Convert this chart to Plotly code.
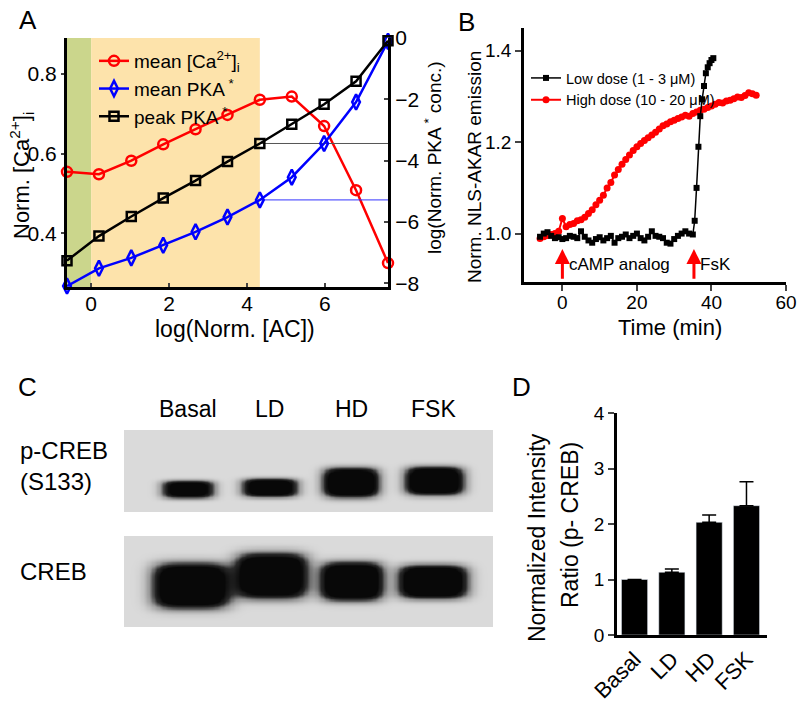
import numpy as np
import plotly.graph_objects as go

# ---- Panel A: model output vs log AC ----
ac_log = [-0.62, 0.2, 1.03, 1.85, 2.68, 3.5, 4.33, 5.15, 5.98, 6.8, 7.62]
ca_mean = [0.554, 0.548, 0.582, 0.623, 0.661, 0.697, 0.735, 0.743, 0.669, 0.508, 0.325]
pka_mean = [-8.09, -7.51, -7.17, -6.76, -6.32, -5.84, -5.28, -4.54, -3.44, -2.09, -0.11]
pka_peak = [-7.26, -6.46, -5.82, -5.22, -4.65, -4.03, -3.44, -2.81, -2.16, -1.41, -0.09]
ref_idx = 6  # edge of the shaded physiological range

# ---- Panel B: NLS-AKAR time course ----
low_time = list(range(-6, 36)) + [35.5, 36, 36.5, 37, 37.5, 38, 38.5, 39, 39.5, 40, 40.5]
low_resp = [0.993, 1.000, 1.003, 0.995, 0.990, 0.992, 0.988, 0.990, 0.995, 0.993,
            0.990, 1.005, 0.993, 0.985, 0.980, 0.988, 0.992, 0.985, 0.990, 0.995,
            0.980, 0.990, 0.993, 0.998, 0.990, 0.995, 1.000, 0.990, 0.985, 0.993,
            1.005, 0.995, 0.993, 0.990, 0.980, 0.978, 0.988, 0.995, 1.000, 1.005,
            1.000, 0.998,
            1.028, 1.100, 1.190, 1.257, 1.294, 1.323, 1.351, 1.364, 1.373, 1.380, 1.384]
high_time = list(range(-6, 53))
high_resp = [0.989, 0.993, 0.996, 0.998, 1.000, 1.005, 1.033,
             1.015, 1.020, 1.022, 1.028, 1.030, 1.036, 1.044, 1.052, 1.063, 1.073,
             1.084, 1.100, 1.112, 1.128, 1.140, 1.152, 1.162, 1.172, 1.182, 1.190,
             1.197, 1.204, 1.210, 1.216, 1.222, 1.229, 1.236, 1.240, 1.245, 1.248,
             1.252, 1.255, 1.259, 1.257, 1.263, 1.266, 1.270, 1.272, 1.276, 1.279,
             1.283, 1.287, 1.286, 1.290, 1.292, 1.295, 1.299, 1.298, 1.302, 1.308,
             1.306, 1.303]
event_time = [0, 35.3]
event_label = ["cAMP analog", "FsK"]

# ---- Panel C/D: western blot ----
lanes = ["Basal", "LD", "HD", "FSK"]
pcreb_density = [0.8, 0.85, 1.0, 1.0]
creb_density = [1.0, 1.0, 1.0, 1.0]
ratio_mean = [1.0, 1.13, 2.03, 2.33]
ratio_err = [0.0, 0.06, 0.13, 0.43]

# band geometry (lane units across, 0-1 up the strip) - only used to draw the blot
pcreb_geom = dict(cx=[0.0, 1.0, 1.99, 3.01], cy=[0.28, 0.30, 0.36, 0.38],
                  wx=[0.32, 0.34, 0.34, 0.355], wy=[0.11, 0.116, 0.177, 0.17])
creb_geom = dict(cx=[0.04, 1.02, 2.0, 2.99], cy=[0.456, 0.566, 0.505, 0.5],
                 wx=[0.47, 0.44, 0.385, 0.42], wy=[0.247, 0.247, 0.209, 0.181])

FONT = "Liberation Sans, Arial, sans-serif"
W, H = 800, 710


def px(x):
    return x / W


def py(y):
    return 1 - y / H


def gel(density, geom):
    gx = np.linspace(-0.78, 3.73, 300)
    gy = np.linspace(0, 1, 80)
    X, Y = np.meshgrid(gx, gy)
    z = np.zeros_like(X)
    for d, cx, cy, wx, wy in zip(density, geom["cx"], geom["cy"], geom["wx"], geom["wy"]):
        z += d * np.exp(-((X - cx) / wx) ** 4 - ((Y - cy) / wy) ** 4)
    return gx, gy, np.clip(1.6 * z, 0, 1)


fig = go.Figure()

# A: shaded ranges
fig.add_shape(type="rect", xref="x", yref="y domain", x0=ac_log[0], x1=0, y0=0, y1=1,
              fillcolor="#cbd68c", line_width=0, layer="below")
fig.add_shape(type="rect", xref="x", yref="y domain", x0=0, x1=ac_log[ref_idx], y0=0, y1=1,
              fillcolor="#fde3ab", line_width=0, layer="below")

fig.add_scatter(x=ac_log, y=ca_mean, xaxis="x", yaxis="y", mode="lines+markers",
                name="mean [Ca<sup>2+</sup>]<sub>i</sub>", cliponaxis=False,
                line=dict(color="red", width=2.5),
                marker=dict(symbol="circle-open", size=10, color="red", line=dict(width=2.5)))
fig.add_scatter(x=[ac_log[ref_idx], ac_log[-1]], y=[pka_peak[ref_idx]] * 2, xaxis="x", yaxis="y2",
                mode="lines", line=dict(color="#555555", width=1), showlegend=False)
fig.add_scatter(x=[ac_log[ref_idx], ac_log[-1]], y=[pka_mean[ref_idx]] * 2, xaxis="x", yaxis="y2",
                mode="lines", line=dict(color="#3333ff", width=1), showlegend=False)
fig.add_scatter(x=ac_log, y=pka_mean, xaxis="x", yaxis="y2", mode="lines+markers",
                name="mean PKA<sup> *</sup>", cliponaxis=False,
                line=dict(color="blue", width=2.5),
                marker=dict(symbol="diamond-tall-open", size=11, color="blue", line=dict(width=2.5)))
fig.add_scatter(x=ac_log, y=pka_peak, xaxis="x", yaxis="y2", mode="lines+markers",
                name="peak PKA<sup> *</sup>", cliponaxis=False,
                line=dict(color="black", width=2.5),
                marker=dict(symbol="square-open", size=9, color="black", line=dict(width=2.5)))

# B
fig.add_scatter(x=high_time, y=high_resp, xaxis="x2", yaxis="y3", mode="lines+markers",
                name="High dose (10 - 20 μM)", legend="legend2", legendrank=2,
                line=dict(color="red", width=2), marker=dict(symbol="circle", size=7, color="red"))
fig.add_scatter(x=low_time, y=low_resp, xaxis="x2", yaxis="y3", mode="lines+markers",
                name="Low dose (1 - 3 μM)", legend="legend2", legendrank=1,
                line=dict(color="black", width=1.5), marker=dict(symbol="square", size=6, color="black"))

# C: blots
gel_scale = [[0, "#dadada"], [0.35, "#9a9a9a"], [0.7, "#2a2a2a"], [1, "#080808"]]
gx, gy, gz = gel(pcreb_density, pcreb_geom)
fig.add_heatmap(x=gx, y=gy, z=gz, xaxis="x4", yaxis="y5", colorscale=gel_scale, zmin=0, zmax=1,
                zsmooth="best", showscale=False, hoverinfo="skip")
gx, gy, gz = gel(creb_density, creb_geom)
fig.add_heatmap(x=gx, y=gy, z=gz, xaxis="x5", yaxis="y6", colorscale=gel_scale, zmin=0, zmax=1,
                zsmooth="best", showscale=False, hoverinfo="skip")

# D
fig.add_bar(x=list(range(len(lanes))), y=ratio_mean, xaxis="x3", yaxis="y4", width=0.7,
            marker=dict(color="black"), showlegend=False,
            error_y=dict(type="data", array=ratio_err, arrayminus=[0] * len(lanes), symmetric=False,
                         color="black", thickness=1.5, width=7))

tick_font = dict(family=FONT, size=21, color="black")
blank = dict(visible=False, showgrid=False, zeroline=False, automargin=False)

fig.update_layout(
    width=W, height=H, margin=dict(l=0, r=0, t=0, b=0, autoexpand=False),
    paper_bgcolor="white", plot_bgcolor="white",
    font=dict(family=FONT, color="black"),
    xaxis=dict(domain=[px(67), px(388)], range=[-0.62, 7.62], anchor="y",
               tickvals=[0, 2, 4, 6], showline=True, linewidth=3, linecolor="black",
               ticks="inside", ticklen=4, tickwidth=2, showgrid=False, ticklabelstandoff=-4,
               zeroline=False, tickfont=tick_font, automargin=False),
    yaxis=dict(domain=[py(287), py(38)], range=[0.265, 0.89], anchor="x",
               tickvals=[0.4, 0.6, 0.8], tickformat=".1f", showline=True, linewidth=3,
               linecolor="black", ticks="outside", ticklen=3, tickwidth=2,
               showgrid=False, zeroline=False, tickfont=tick_font, automargin=False),
    yaxis2=dict(overlaying="y", side="right", anchor="x", range=[-8.12, 0],
                tickvals=[-8, -6, -4, -2, 0], showline=True, linewidth=3, linecolor="black",
                ticks="inside", ticklen=4, tickwidth=2, showgrid=False, zeroline=False,
                tickfont=tick_font, automargin=False),
    xaxis2=dict(domain=[px(524), px(786)], range=[-10.3, 60], anchor="y3",
                tickvals=[0, 20, 40, 60], showline=True, linewidth=2.5, linecolor="black",
                ticks="outside", ticklen=6, tickwidth=2, showgrid=False, zeroline=False,
                ticklabelstandoff=-5,
                tickfont=dict(family=FONT, size=19, color="black"), automargin=False),
    yaxis3=dict(domain=[py(282), py(28)], range=[0.894, 1.45], anchor="x2",
                tickvals=[1.0, 1.2, 1.4], tickformat=".1f", showline=True, linewidth=2.5,
                linecolor="black", ticks="outside", ticklen=6, tickwidth=2,
                showgrid=False, zeroline=False,
                tickfont=dict(family=FONT, size=19, color="black"), automargin=False),
    xaxis3=dict(domain=[px(617), px(767)], range=[-0.47, 3.55], anchor="y4",
                tickvals=list(range(len(lanes))), ticktext=lanes, tickangle=-45,
                showline=True, linewidth=2.5, linecolor="black", ticks="",
                showgrid=False, zeroline=False,
                tickfont=dict(family=FONT, size=22, color="black"), automargin=False),
    yaxis4=dict(domain=[py(635), py(413)], range=[0, 4], anchor="x3", dtick=1,
                showline=True, linewidth=2.5, linecolor="black", ticks="outside",
                ticklen=6, tickwidth=2, showgrid=False, zeroline=False,
                tickfont=dict(family=FONT, size=19, color="black"), automargin=False),
    xaxis4=dict(domain=[px(124), px(493)], range=[-0.78, 3.73], anchor="y5", **blank),
    yaxis5=dict(domain=[py(512), py(430)], range=[0, 1], anchor="x4", **blank),
    xaxis5=dict(domain=[px(124), px(493)], range=[-0.78, 3.73], anchor="y6", **blank),
    yaxis6=dict(domain=[py(627), py(536)], range=[0, 1], anchor="x5", **blank),
    legend=dict(x=px(94), y=py(42), xanchor="left", yanchor="top", bgcolor="rgba(0,0,0,0)",
                itemwidth=30, font=dict(family=FONT, size=19, color="black")),
    legend2=dict(x=px(526), y=py(62), xanchor="left", yanchor="top", bgcolor="rgba(0,0,0,0)",
                 font=dict(family=FONT, size=14.5, color="black")),
)

notes = [
    ("A", 28, 20, 26, 0), ("B", 466, 22, 26, 0), ("C", 27, 387, 26, 0), ("D", 521, 387, 26, 0),
    ("log(Norm. [AC])", 235, 329, 23, 0),
    ("Norm. [Ca<sup>2+</sup>]<sub>i</sub>", 21, 176, 22, -90),
    ("log(Norm. PKA<sup> *</sup> conc.)", 433, 158, 19, -90),
    ("Norm. NLS-AKAR emission", 474, 167, 19, -90),
    ("Time (min)", 670, 327, 22, 0),
    ("Normalized Intensity", 537, 538, 23, -90),
    ("Ratio (p- CREB)", 570, 525, 23, -90),
]
for text, x, y, size, ang in notes:
    fig.add_annotation(text=text, x=px(x), y=py(y), xref="paper", yref="paper",
                       showarrow=False, textangle=ang, xanchor="center", yanchor="middle",
                       font=dict(family=FONT, size=size, color="black"))

# C labels
for i, name in enumerate(lanes):
    fig.add_annotation(text=name, x=i, y=py(409), xref="x4", yref="paper", showarrow=False,
                       font=dict(family=FONT, size=23, color="black"))
fig.add_annotation(text="p-CREB<br>(S133)", x=px(18), y=py(466), xref="paper", yref="paper",
                   showarrow=False, xanchor="left", align="left",
                   font=dict(family=FONT, size=24, color="black"))
fig.add_annotation(text="CREB", x=px(18), y=py(587), xref="paper", yref="paper",
                   showarrow=False, xanchor="left", font=dict(family=FONT, size=24, color="black"))

# B treatment arrows
for t, label in zip(event_time, event_label):
    fig.add_annotation(x=t, y=0.966, ax=t, ay=0.898, xref="x2", yref="y3", axref="x2", ayref="y3",
                       text="", showarrow=True, arrowhead=2, arrowsize=1, arrowwidth=3,
                       arrowcolor="red")
    fig.add_annotation(text=label, x=t + 1.2, y=0.932, xref="x2", yref="y3", showarrow=False,
                       xanchor="left", font=dict(family=FONT, size=17, color="black"))

# drop the page's default body margin so the figure sits at the window corner
fig.write_html("out.html", config={"displayModeBar": False},
               post_script="document.body.style.margin='0';")
